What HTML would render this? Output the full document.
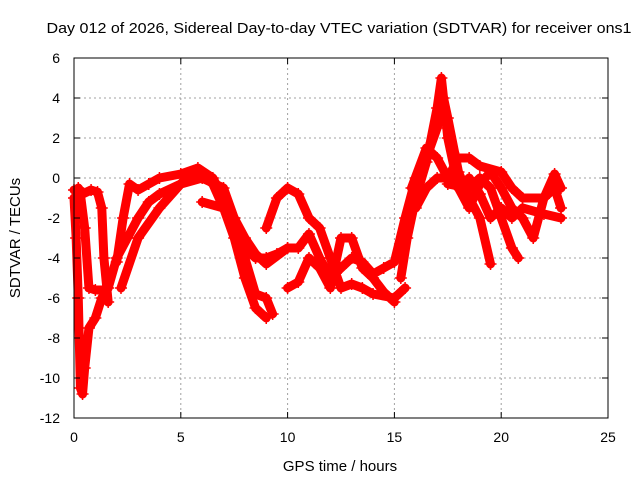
<!DOCTYPE html>
<html><head><meta charset="utf-8"><style>
body{margin:0;background:#fff}
svg{display:block;font-family:"Liberation Sans",sans-serif}
</style></head><body>
<svg id="c" width="640" height="480" viewBox="0 0 640 480">
<rect width="640" height="480" fill="#fff"/>
<text x="339" y="33" text-anchor="middle" font-size="15" textLength="585" lengthAdjust="spacingAndGlyphs">Day 012 of 2026, Sidereal Day-to-day VTEC variation (SDTVAR) for receiver ons1</text>
<g id="grid"></g>
<g id="marks"></g>
<rect x="74" y="58" width="534" height="360" fill="none" stroke="#000" stroke-width="1"/>
<g id="ticks"></g>
<text x="340" y="471" text-anchor="middle" font-size="15">GPS time / hours</text>
<text transform="translate(20,238) rotate(-90)" text-anchor="middle" font-size="15">SDTVAR / TECUs</text>
</svg>
<script>
const xTicks=[0,5,10,15,20,25];
const yTicks=[-12,-10,-8,-6,-4,-2,0,2,4,6];
const trackA=[[0,-1],[0.1,-3],[0.2,-6],[0.3,-10.5],[0.4,-10.8],[0.5,-9.5],[0.7,-7.5],[1,-7],[1.3,-6],[1.6,-5.5],[2,-4],[2.5,-3],[3,-2],[3.5,-1.2],[4,-0.8],[5,-0.3],[5.5,0.3],[6,0.2],[6.5,-0.3],[7,-1.5],[7.5,-3],[8,-5],[8.5,-6.5],[9,-7]];
const trackB=[[0,-0.6],[0.3,-0.8],[0.5,-2.5],[0.7,-5.5],[1,-5.6],[1.5,-5.6],[1.6,-6.2],[1.4,-4],[1.3,-1.5],[1.1,-0.7],[0.8,-0.6],[0.4,-0.8],[0.2,-0.5]];
const trackC=[[2,-4.2],[2.3,-2],[2.6,-0.3],[3,-0.6],[3.5,-0.3],[4,0],[5,0.2],[5.8,0.5],[6.5,0],[7,-1],[7.5,-2.5],[8,-3.5],[8.5,-4],[9,-4],[9.5,-3.8],[10,-3.5],[10.5,-3.5],[11,-2.8],[11.5,-4],[12,-5],[12.5,-4.5],[13,-4],[13.5,-4.2],[14,-4.8],[14.5,-4.5],[15,-4.2],[15.5,-2],[16,0],[16.5,1],[17,2.5],[17.3,4],[17.5,3],[18,0.3],[18.5,-1],[19,-2],[19.5,-4.3]];
const trackD=[[2.2,-5.5],[3,-3],[4,-1.5],[5,-0.3],[6,0],[7,-0.5],[7.5,-2],[8,-4],[8.5,-5.8],[9,-6],[9.3,-6.8]];
const trackD2=[[6,-1.2],[7,-1.5],[7.5,-2],[8,-3],[8.5,-3.8],[9,-4.3],[10,-3.5]];
const trackE=[[9,-2.5],[9.5,-1],[10,-0.5],[10.5,-0.8],[11,-2],[11.5,-2.5],[12,-4],[12.5,-5.5],[13,-5.3],[13.5,-5.5],[14,-5.8],[15,-6],[15.5,-5.5]];
const trackF=[[10,-5.5],[10.5,-5.2],[11,-4],[11.5,-4.5],[12,-5.5],[12.5,-3],[13,-3],[13.5,-4.5],[14,-5],[14.5,-5.7],[15,-6.2]];
const trackG=[[15.3,-5],[15.6,-3],[16,-1],[16.5,0.8],[17,3.5],[17.2,5],[17.5,2],[18,-0.5],[18.5,-1.5],[19,-0.3],[19.5,0.3],[20,-0.5],[20.5,-1.5],[21,-2],[21.5,-3],[22,-1],[22.5,0.2],[22.8,-0.5]];
const trackH=[[16,-1.5],[16.5,-0.5],[17,0],[17.5,0],[18,-0.5],[18.5,0],[19,-0.8],[19.5,-2],[20,-1.5],[20.5,-2],[21,-1.5],[22,-1.8],[22.8,-2]];
const trackI=[[15.8,-0.5],[16.5,1.5],[17,1],[17.5,0],[18,1],[18.5,1],[19,0.6],[20,0.3],[20.5,-0.5],[21,-1],[22,-1],[22.5,-0.5],[22.8,-1.5]];
const trackJ=[[17.5,-0.3],[18.5,-0.5],[19,0],[19.5,-0.5],[20,-2],[20.5,-3.5],[20.8,-4]];
const tracks=[trackA,trackB,trackC,trackD,trackD2,trackE,trackF,trackG,trackH,trackI,trackJ];
const X0=74,X1=608,Y0=418,Y1=58;
function sx(v){return X0+(v-0)/(25-0)*(X1-X0);}
function sy(v){return Y0-(v+12)/(6+12)*(Y0-Y1);}
const NS='http://www.w3.org/2000/svg';
function mk(t,a,p){const e=document.createElementNS(NS,t);for(const k in a)e.setAttribute(k,a[k]);p.appendChild(e);return e;}
const grid=document.getElementById('grid'),ticks=document.getElementById('ticks'),marks=document.getElementById('marks');
xTicks.forEach(v=>{const x=sx(v);
 if(v>0&&v<25){const l=mk('line',{x1:x,x2:x,y1:Y1,y2:Y0,stroke:'#a0a0a0','stroke-dasharray':'2,3'},grid);}
 mk('line',{x1:x,x2:x,y1:Y0,y2:Y0-6,stroke:'#000'},ticks);mk('line',{x1:x,x2:x,y1:Y1,y2:Y1+6,stroke:'#000'},ticks);
 const t=mk('text',{x:x,y:Y0+24,'text-anchor':'middle','font-size':14},ticks);t.textContent=v;
 });
yTicks.forEach(v=>{const y=sy(v);
 if(v>-12&&v<6){const l=mk('line',{x1:X0,x2:X1,y1:y,y2:y,stroke:'#a0a0a0','stroke-dasharray':'2,3'},grid);}
 mk('line',{x1:X0,x2:X0+6,y1:y,y2:y,stroke:'#000'},ticks);mk('line',{x1:X1,x2:X1-6,y1:y,y2:y,stroke:'#000'},ticks);
 const t=mk('text',{x:X0-14,y:y+5,'text-anchor':'end','font-size':14},ticks);t.textContent=v;
 });
tracks.forEach((tr,i)=>{
 const p=mk('polyline',{points:tr.map(d=>sx(d[0])+','+sy(d[1])).join(' '),fill:'none',stroke:'#f00','stroke-width':9,'stroke-linejoin':'round','stroke-linecap':'round'},marks);
 
 
 tr.forEach(d=>{const x=sx(d[0]),y=sy(d[1]);
  const g=mk('path',{d:`M${x-6},${y}H${x+6}M${x},${y-6}V${y+6}`,stroke:'#f00','stroke-width':1.5},marks);
  
  });
});
</script>
</body></html>
